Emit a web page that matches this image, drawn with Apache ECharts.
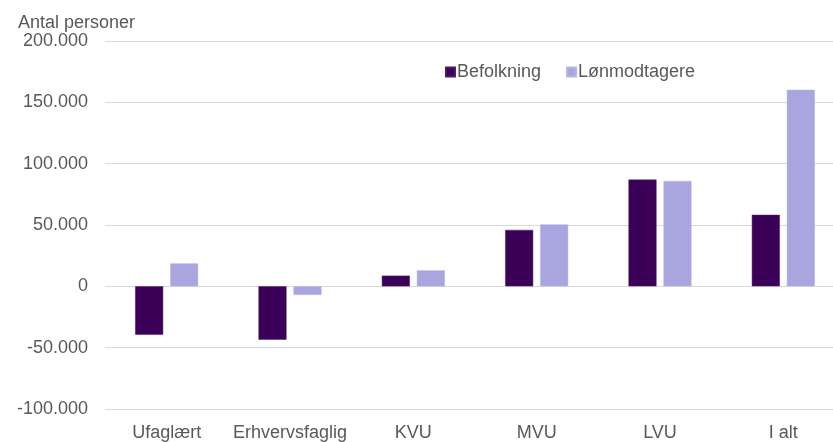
<!DOCTYPE html>
<html>
<head>
<meta charset="utf-8">
<script src="https://cdn.jsdelivr.net/npm/echarts@6/dist/echarts.min.js"></script>
<style>
html,body{margin:0;padding:0;background:#fff;overflow:hidden;width:833px;height:442px;}
#chart{width:845px;height:442px;}
</style>
</head>
<body>
<div id="chart"></div>
<script>
var categories = ['Ufaglært', 'Erhvervsfaglig', 'KVU', 'MVU', 'LVU', 'I alt'];
var befolkning = [-39500, -43500, 8700, 46000, 87000, 58300];
var loenmodtagere = [18700, -7000, 13000, 50500, 85900, 160200];
var seriesNames = ['Befolkning', 'Lønmodtagere'];
var yTitle = 'Antal personer';

var FONT = '"Liberation Sans", Arial, sans-serif';
var GREY = '#595959';

function fmt(v) {
  var neg = v < 0;
  var s = String(Math.abs(v)).replace(/\B(?=(\d{3})+(?!\d))/g, '.');
  return (neg ? '-' : '') + s;
}

var chart = echarts.init(document.getElementById('chart'), null, {renderer: 'canvas'});
chart.setOption({
  animation: false,
  backgroundColor: '#ffffff',
  textStyle: {fontFamily: FONT},
  grid: {left: 105, top: 41, right: 0, bottom: 29, containLabel: false},
  legend: {
    left: 445, top: 63, padding: 0,
    itemWidth: 9, itemHeight: 9, itemGap: 25,
    icon: 'rect',
    textStyle: {fontFamily: FONT, fontSize: 18, color: GREY, padding: [0, 0, 0, -3]},
    data: seriesNames
  },
  graphic: [{
    type: 'text', left: 18, top: 14,
    style: {text: yTitle, font: '18px ' + FONT, fill: GREY}
  }],
  xAxis: {
    type: 'category',
    data: categories,
    position: 'bottom',
    axisLine: {show: false},
    axisTick: {show: false},
    axisLabel: {fontFamily: FONT, fontSize: 18, color: GREY, margin: 15, interval: 0}
  },
  yAxis: {
    type: 'value',
    min: -100000, max: 200000, interval: 50000,
    axisLine: {show: false},
    axisTick: {show: false},
    splitLine: {lineStyle: {color: '#d9d9d9', width: 1}},
    axisLabel: {fontFamily: FONT, fontSize: 18, color: GREY, margin: 17, formatter: fmt}
  },
  series: [
    {name: seriesNames[0], type: 'bar', data: befolkning, barWidth: 28, barGap: '25%',
     itemStyle: {color: '#3B0057', borderColor: '#4e1a6c', borderWidth: 0.5}},
    {name: seriesNames[1], type: 'bar', data: loenmodtagere, barWidth: 28, barGap: '25%',
     itemStyle: {color: '#A9A6DF', borderColor: '#b6b3e6', borderWidth: 0.5}}
  ]
});
</script>
</body>
</html>
